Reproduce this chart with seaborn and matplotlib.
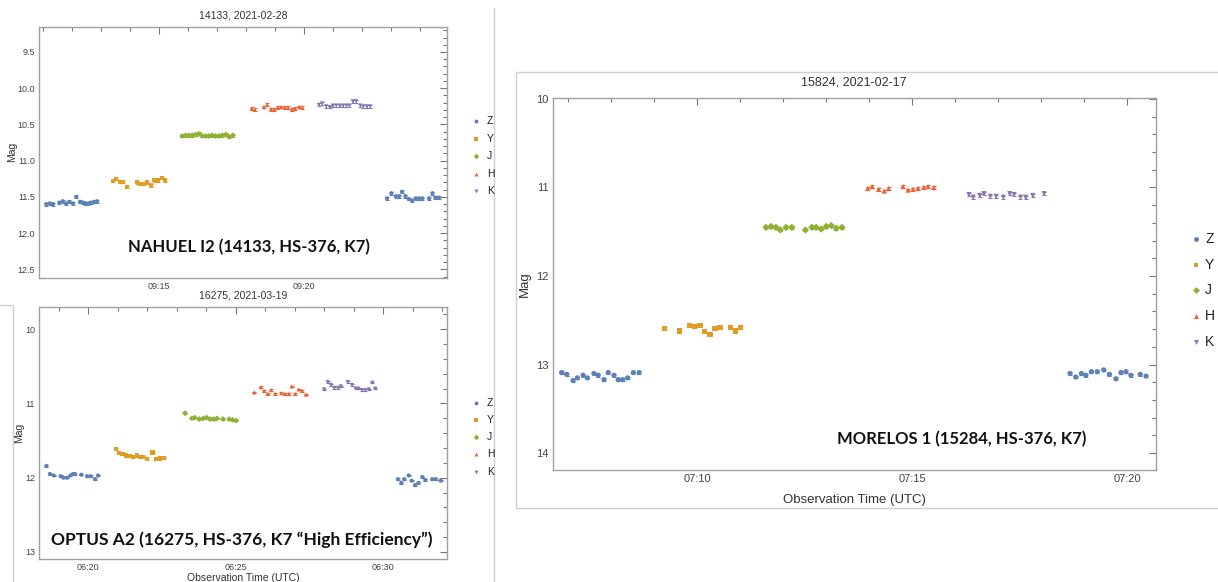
import pandas as pd
import numpy as np
import seaborn as sns
import matplotlib.pyplot as plt
import matplotlib.dates as mdates
from matplotlib.lines import Line2D
from matplotlib.ticker import MultipleLocator, FormatStrFormatter

W, H = 1218, 582

BANDS = ["Z", "Y", "J", "H", "K"]
COLORS = ["#5e81b5", "#e19c24", "#8fb032", "#eb6235", "#8778b3"]
MARKERS = ["o", "s", "D", "^", "v"]

# ---- NAHUEL I2, 2021-02-28 ----
nah_z_t = ["09:11:07", "09:11:14", "09:11:21", "09:11:34", "09:11:41", "09:11:48", "09:11:55", "09:12:02",
           "09:12:09", "09:12:17", "09:12:23", "09:12:28", "09:12:34", "09:12:39", "09:12:46", "09:12:52",
           "09:22:52", "09:23:01", "09:23:10", "09:23:17", "09:23:23", "09:23:30", "09:23:37", "09:23:44",
           "09:23:51", "09:23:58", "09:24:05", "09:24:19", "09:24:26", "09:24:32", "09:24:39"]
nah_z_m = [11.60, 11.59, 11.60, 11.58, 11.56, 11.59, 11.57, 11.59, 11.50, 11.57, 11.58, 11.59, 11.59, 11.58,
           11.57, 11.56,
           11.52, 11.45, 11.49, 11.49, 11.43, 11.49, 11.53, 11.55, 11.52, 11.52, 11.52, 11.52, 11.45, 11.51, 11.51]
nah_y_t = ["09:13:25", "09:13:32", "09:13:39", "09:13:46", "09:13:54", "09:14:14", "09:14:21", "09:14:28",
           "09:14:35", "09:14:44", "09:14:51", "09:14:58", "09:15:06", "09:15:13"]
nah_y_m = [11.28, 11.25, 11.29, 11.29, 11.36, 11.30, 11.32, 11.32, 11.30, 11.34, 11.27, 11.27, 11.24, 11.27]
nah_j_t = ["09:15:48", "09:15:55", "09:16:02", "09:16:09", "09:16:16", "09:16:23", "09:16:30", "09:16:37",
           "09:16:43", "09:16:50", "09:16:57", "09:17:04", "09:17:11", "09:17:18", "09:17:25", "09:17:33"]
nah_j_m = [10.66, 10.65, 10.65, 10.65, 10.64, 10.63, 10.66, 10.66, 10.66, 10.65, 10.66, 10.66, 10.65, 10.64,
           10.67, 10.65]
nah_h_t = ["09:18:12", "09:18:19", "09:18:37", "09:18:44", "09:18:52", "09:18:59", "09:19:06", "09:19:13",
           "09:19:20", "09:19:27", "09:19:35", "09:19:42", "09:19:50", "09:19:57"]
nah_h_m = [10.28, 10.30, 10.26, 10.23, 10.29, 10.29, 10.27, 10.26, 10.27, 10.27, 10.29, 10.28, 10.26, 10.27]
nah_k_t = ["09:20:31", "09:20:38", "09:20:46", "09:20:53", "09:21:00", "09:21:07", "09:21:14", "09:21:21",
           "09:21:28", "09:21:34", "09:21:41", "09:21:48", "09:21:57", "09:22:03", "09:22:10", "09:22:17"]
nah_k_m = [10.23, 10.21, 10.25, 10.26, 10.24, 10.24, 10.24, 10.24, 10.24, 10.24, 10.18, 10.18, 10.24, 10.25,
           10.25, 10.25]

# ---- OPTUS A2, 2021-03-19 ----
opt_z_t = ["06:18:35", "06:18:42", "06:18:50", "06:19:04", "06:19:10", "06:19:17", "06:19:24", "06:19:29",
           "06:19:33", "06:19:46", "06:19:58", "06:20:05", "06:20:14", "06:20:20",
           "06:30:30", "06:30:37", "06:30:43", "06:30:52", "06:30:58", "06:31:05", "06:31:12", "06:31:20",
           "06:31:26", "06:31:40", "06:31:47", "06:31:57"]
opt_z_m = [11.84, 11.95, 11.97, 11.98, 12.00, 12.00, 11.97, 11.95, 11.95, 11.96, 11.98, 11.98, 12.02, 11.97,
           12.02, 12.07, 12.02, 11.97, 12.04, 12.10, 12.07, 11.99, 12.03, 12.02, 12.02, 12.04]
opt_y_t = ["06:20:56", "06:21:02", "06:21:10", "06:21:17", "06:21:25", "06:21:32", "06:21:39", "06:21:45",
           "06:21:52", "06:21:59", "06:22:11", "06:22:19", "06:22:26", "06:22:34"]
opt_y_m = [11.61, 11.67, 11.68, 11.70, 11.71, 11.72, 11.70, 11.72, 11.72, 11.75, 11.66, 11.75, 11.74, 11.73]
opt_j_t = ["06:23:17", "06:23:31", "06:23:37", "06:23:46", "06:23:54", "06:24:01", "06:24:08", "06:24:15",
           "06:24:22", "06:24:34", "06:24:47", "06:24:54", "06:25:01"]
opt_j_m = [11.13, 11.20, 11.19, 11.21, 11.20, 11.19, 11.21, 11.21, 11.20, 11.21, 11.21, 11.22, 11.23]
opt_h_t = ["06:25:38", "06:25:51", "06:25:58", "06:26:05", "06:26:12", "06:26:21", "06:26:33", "06:26:40",
           "06:26:48", "06:26:54", "06:27:01", "06:27:08", "06:27:15", "06:27:23"]
opt_h_m = [10.85, 10.78, 10.83, 10.87, 10.82, 10.87, 10.86, 10.87, 10.87, 10.77, 10.87, 10.81, 10.83, 10.88]
opt_k_t = ["06:28:00", "06:28:07", "06:28:14", "06:28:21", "06:28:28", "06:28:34", "06:28:48", "06:28:57",
           "06:29:04", "06:29:10", "06:29:17", "06:29:24", "06:29:31", "06:29:38", "06:29:44"]
opt_k_m = [10.81, 10.71, 10.75, 10.79, 10.79, 10.77, 10.71, 10.75, 10.80, 10.80, 10.82, 10.82, 10.81, 10.72,
           10.80]

# ---- MORELOS 1, 2021-02-17 ----
mor_z_t = ["07:06:51", "07:06:58", "07:07:07", "07:07:13", "07:07:21", "07:07:27", "07:07:36", "07:07:42",
           "07:07:50", "07:07:56", "07:08:04", "07:08:10", "07:08:16", "07:08:23", "07:08:31", "07:08:39",
           "07:18:40", "07:18:48", "07:18:56", "07:19:02", "07:19:10", "07:19:18", "07:19:27", "07:19:35",
           "07:19:44", "07:19:51", "07:19:58", "07:20:05", "07:20:18", "07:20:26"]
mor_z_m = [13.09, 13.11, 13.18, 13.15, 13.12, 13.15, 13.10, 13.12, 13.17, 13.09, 13.12, 13.17, 13.17, 13.15,
           13.09, 13.09,
           13.10, 13.14, 13.10, 13.12, 13.08, 13.08, 13.06, 13.11, 13.16, 13.09, 13.08, 13.12, 13.11, 13.13]
mor_y_t = ["07:09:15", "07:09:35", "07:09:49", "07:09:56", "07:10:04", "07:10:10", "07:10:18", "07:10:25",
           "07:10:32", "07:10:46", "07:10:53", "07:11:01"]
mor_y_m = [12.59, 12.62, 12.56, 12.57, 12.56, 12.63, 12.66, 12.59, 12.58, 12.58, 12.62, 12.58]
mor_j_t = ["07:11:36", "07:11:43", "07:11:50", "07:11:56", "07:12:04", "07:12:12", "07:12:31", "07:12:40",
           "07:12:46", "07:12:53", "07:13:00", "07:13:07", "07:13:14", "07:13:22"]
mor_j_m = [11.45, 11.44, 11.45, 11.48, 11.45, 11.45, 11.48, 11.45, 11.45, 11.47, 11.44, 11.43, 11.46, 11.45]
mor_h_t = ["07:13:58", "07:14:04", "07:14:13", "07:14:21", "07:14:27", "07:14:47", "07:14:54", "07:15:01",
           "07:15:08", "07:15:16", "07:15:22", "07:15:30"]
mor_h_m = [11.01, 10.99, 11.02, 11.04, 11.01, 10.99, 11.03, 11.02, 11.01, 11.00, 10.99, 11.00]
mor_k_t = ["07:16:19", "07:16:25", "07:16:34", "07:16:40", "07:16:49", "07:16:57", "07:17:07", "07:17:16",
           "07:17:22", "07:17:31", "07:17:38", "07:17:48", "07:18:04"]
mor_k_m = [11.08, 11.11, 11.09, 11.07, 11.10, 11.10, 11.11, 11.07, 11.08, 11.11, 11.11, 11.09, 11.07]


def make_df(date, parts):
    rows = []
    for band, (times, mags) in zip(BANDS, parts):
        for t, m in zip(times, mags):
            rows.append({"band": band, "time": pd.Timestamp(date + " " + t), "mag": m})
    return pd.DataFrame(rows)


def fx(x):
    return x / W


def fy(y):
    return 1 - y / H


def draw_panel(ax, df, err, size, date, xlim, ylim, ymajor, yminor, yfmt, fs):
    for band, color in zip(BANDS, COLORS):
        sub = df[df.band == band]
        ax.errorbar(sub.time, sub.mag, yerr=err, fmt="none", ecolor=color,
                    elinewidth=0.7, capsize=1.5, capthick=0.8, zorder=2)
    sns.scatterplot(data=df, x="time", y="mag", hue="band", style="band",
                    hue_order=BANDS, style_order=BANDS, palette=COLORS,
                    markers=dict(zip(BANDS, MARKERS)), s=size, linewidth=0,
                    legend=False, ax=ax, zorder=3)
    ax.set_xlim(pd.Timestamp(date + " " + xlim[0]), pd.Timestamp(date + " " + xlim[1]))
    ax.set_ylim(*ylim)
    ax.set_xlabel("")
    ax.set_ylabel("")
    ax.xaxis.set_major_locator(mdates.MinuteLocator(byminute=range(0, 60, 5)))
    ax.xaxis.set_minor_locator(mdates.MinuteLocator())
    ax.xaxis.set_major_formatter(mdates.DateFormatter("%H:%M"))
    ax.yaxis.set_major_locator(MultipleLocator(ymajor))
    ax.yaxis.set_minor_locator(MultipleLocator(yminor))
    ax.yaxis.set_major_formatter(FormatStrFormatter(yfmt))
    ax.tick_params(which="both", direction="in", top=True, right=True,
                   color="#777777", labelcolor="#444444", labelsize=fs, width=0.8)
    ax.tick_params(which="major", length=5, pad=3)
    ax.tick_params(which="minor", length=3)
    for sp in ax.spines.values():
        sp.set_color("#a0a0a0")
        sp.set_linewidth(1.0)
    ax.grid(False)


def legend(fig, xm, xt, ys, ms, fs):
    for band, color, mk, y in zip(BANDS, COLORS, MARKERS, ys):
        fig.add_artist(Line2D([fx(xm)], [fy(y)], marker=mk, color=color, markersize=ms,
                              linestyle="none", markeredgewidth=0, transform=fig.transFigure))
        fig.text(fx(xt), fy(y), band, fontsize=fs, color="#222222", va="center", ha="left")


def border(fig, pts):
    xs = [fx(p[0]) for p in pts]
    ys = [fy(p[1]) for p in pts]
    fig.add_artist(Line2D(xs, ys, color="#cfcfcf", linewidth=1.0, transform=fig.transFigure))


def main():
    sns.set_style("white")
    plt.rcParams["font.family"] = ["Liberation Sans", "DejaVu Sans"]

    fig = plt.figure(figsize=(W / 100, H / 100), dpi=100)

    # screenshot frames
    border(fig, [(494, 8), (494, 582)])
    border(fig, [(0, 305), (13, 305), (13, 582)])
    border(fig, [(1218, 72), (516, 72), (516, 508), (1218, 508)])

    # NAHUEL I2
    ax1 = fig.add_axes([fx(39), fy(278), fx(447 - 39), (278 - 27) / H])
    df1 = make_df("2021-02-28", [(nah_z_t, nah_z_m), (nah_y_t, nah_y_m), (nah_j_t, nah_j_m),
                                 (nah_h_t, nah_h_m), (nah_k_t, nah_k_m)])
    draw_panel(ax1, df1, 0.02, 9, "2021-02-28", ("09:10:52", "09:24:56"),
               (12.62, 9.155), 0.5, 0.1, "%.1f", 6.5)
    fig.text(fx(243), fy(15), "14133, 2021-02-28", fontsize=7.5, color="#333333", ha="center", va="center")
    fig.text(fx(12), fy(152), "Mag", fontsize=7.5, color="#333333", rotation=90, ha="center", va="center")
    fig.text(fx(249), fy(247), "NAHUEL I2 (14133, HS-376, K7)", fontsize=12, fontweight="bold",
             family="Lato", ha="center", va="center", color="#111111")
    legend(fig, 476, 487, [121, 138.5, 156, 173.5, 191], 2.8, 7.5)

    # OPTUS A2
    ax2 = fig.add_axes([fx(39), fy(559), fx(447 - 39), (559 - 307) / H])
    df2 = make_df("2021-03-19", [(opt_z_t, opt_z_m), (opt_y_t, opt_y_m), (opt_j_t, opt_j_m),
                                 (opt_h_t, opt_h_m), (opt_k_t, opt_k_m)])
    draw_panel(ax2, df2, 0.01, 9, "2021-03-19", ("06:18:20", "06:32:10"),
               (13.095, 9.70), 1, 0.2, "%.0f", 6.5)
    fig.text(fx(243), fy(296), "16275, 2021-03-19", fontsize=7.5, color="#333333", ha="center", va="center")
    fig.text(fx(19), fy(433), "Mag", fontsize=7.5, color="#333333", rotation=90, ha="center", va="center")
    fig.text(fx(243), fy(573), "Observation Time (UTC)", fontsize=7.5, color="#333333", ha="center", va="top")
    fig.text(fx(242), fy(540), "OPTUS A2 (16275, HS-376, K7 \u201cHigh Efficiency\u201d)", fontsize=12.5,
             fontweight="bold", family="Lato", ha="center", va="center", color="#111111")
    legend(fig, 476, 487, [403, 420, 437, 454, 472], 2.8, 7.5)

    # MORELOS 1
    ax3 = fig.add_axes([fx(553), fy(470), fx(1156 - 553), (470 - 98) / H])
    df3 = make_df("2021-02-17", [(mor_z_t, mor_z_m), (mor_y_t, mor_y_m), (mor_j_t, mor_j_m),
                                 (mor_h_t, mor_h_m), (mor_k_t, mor_k_m)])
    draw_panel(ax3, df3, 0.015, 14, "2021-02-17", ("07:06:39", "07:20:40"),
               (14.19, 9.99), 1, 0.2, "%.0f", 8)
    fig.text(fx(854), fy(83), "15824, 2021-02-17", fontsize=9, color="#333333", ha="center", va="center")
    fig.text(fx(525), fy(284), "Mag", fontsize=9.5, color="#333333", rotation=90, ha="center", va="center")
    fig.text(fx(854), fy(500), "Observation Time (UTC)", fontsize=9.5, color="#333333", ha="center", va="center")
    fig.text(fx(962), fy(439), "MORELOS 1 (15284, HS-376, K7)", fontsize=12, fontweight="bold",
             family="Lato", ha="center", va="center", color="#111111")
    legend(fig, 1196, 1205, [239, 265, 290, 316, 342], 3.5, 10)

    fig.savefig("out.png", dpi=100)


if __name__ == "__main__":
    main()
